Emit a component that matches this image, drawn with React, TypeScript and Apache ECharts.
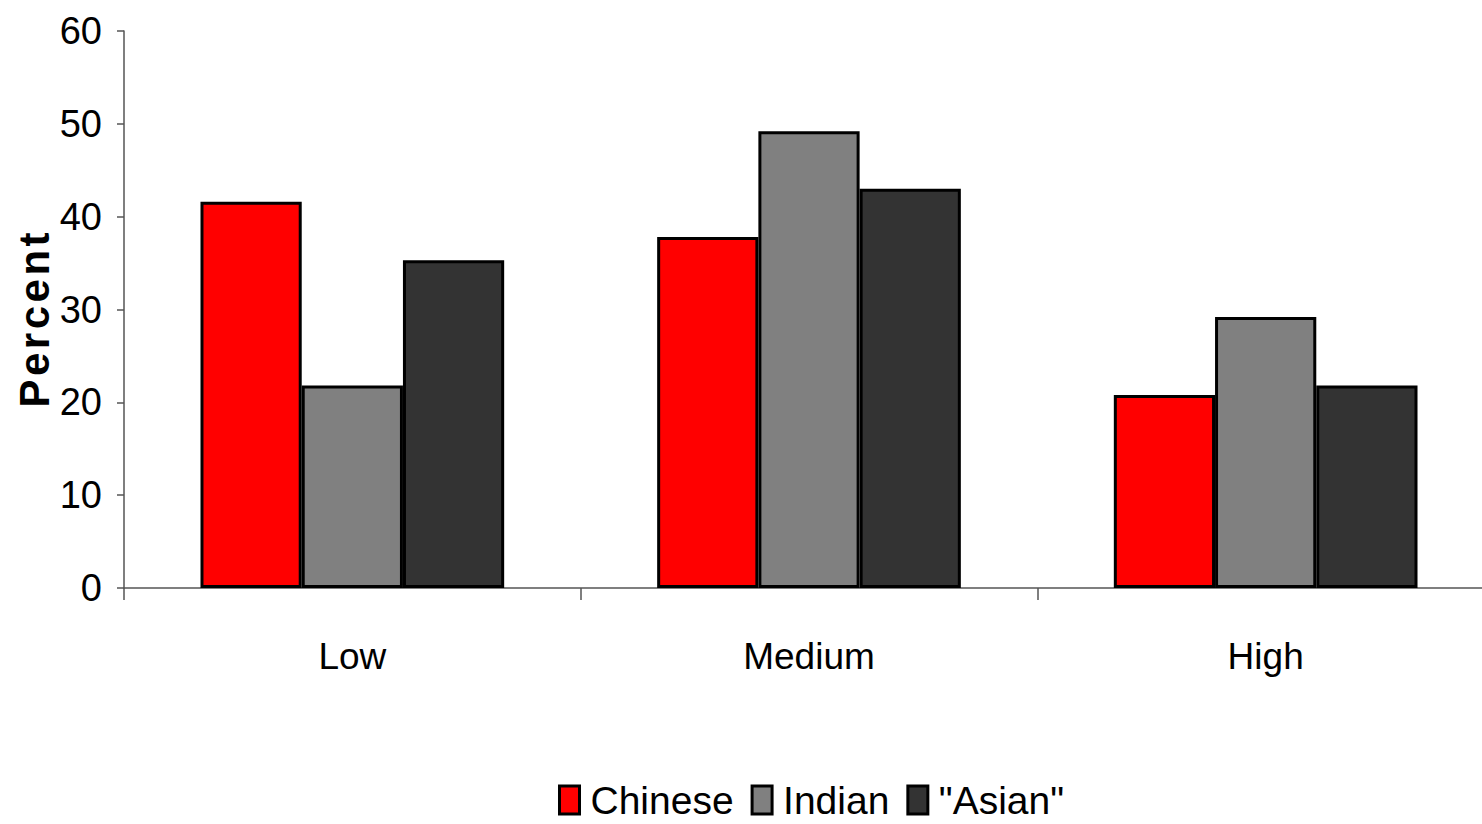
import React, { useEffect, useRef } from "react";
import * as echarts from "echarts";

const categories = ["Low", "Medium", "High"];
const seriesNames = ["Chinese", "Indian", "\"Asian\""];
const chineseValues = [41.6, 37.8, 20.8];
const indianValues = [21.8, 49.2, 29.2];
const asianValues = [35.3, 43.0, 21.8];
const seriesColors = ["#ff0000", "#808080", "#333333"];
const yTicks = { min: 0, max: 60, interval: 10 };
const yAxisTitle = "P\u200Ae\u200Ar\u200Ac\u200Ae\u200An\u200At";

const FONT = "'Liberation Sans', Arial, sans-serif";

export default function App() {
  const ref = useRef<HTMLDivElement>(null);
  useEffect(() => {
    if (!ref.current) return;
    const chart = echarts.init(ref.current, undefined, { renderer: "svg" });
    const values = [chineseValues, indianValues, asianValues];
    chart.setOption({
      animation: false,
      backgroundColor: "#ffffff",
      textStyle: { fontFamily: FONT },
      grid: { left: 124, top: 31, height: 557, width: 1370, containLabel: false },
      graphic: [
        {
          type: "text",
          x: 34,
          y: 320,
          rotation: Math.PI / 2,
          style: {
            text: yAxisTitle,
            font: "bold 42px " + FONT,
            fill: "#000",
            align: "center",
            verticalAlign: "middle",
          },
        },
      ],
      legend: {
        left: 553,
        top: 775,
        padding: 5,
        itemWidth: 20,
        itemHeight: 28,
        itemGap: 17,
        icon: "rect",
        data: seriesNames,
        textStyle: { fontFamily: FONT, fontSize: 39, lineHeight: 40, color: "#000", padding: [0, 0, 0, 6] },
        itemStyle: { borderColor: "#000", borderWidth: 3 },
      },
      xAxis: {
        type: "category",
        data: categories,
        boundaryGap: true,
        axisLine: { lineStyle: { color: "#555", width: 1.5 } },
        axisTick: { show: true, length: 12, lineStyle: { color: "#555", width: 1.5 } },
        axisLabel: { fontFamily: FONT, fontSize: 37, color: "#000", margin: 50 },
      },
      yAxis: {
        type: "value",
        min: yTicks.min,
        max: yTicks.max,
        interval: yTicks.interval,
        splitLine: { show: false },
        axisLine: { show: true, lineStyle: { color: "#555", width: 1.5 } },
        axisTick: { show: true, length: 7, lineStyle: { color: "#555", width: 1.5 } },
        axisLabel: { fontFamily: FONT, fontSize: 38, color: "#000", margin: 22 },
      },
      series: seriesNames.map((name, i) => ({
        name,
        type: "bar",
        data: values[i],
        barGap: "0%",
        barCategoryGap: "33.5%",
        itemStyle: { color: seriesColors[i], borderColor: "#000", borderWidth: 3 },
      })),
    });
    return () => chart.dispose();
  }, []);
  return (
    <div
      ref={ref}
      style={{ position: "fixed", left: 0, top: 0, width: 1500, height: 824, background: "#fff" }}
    />
  );
}
